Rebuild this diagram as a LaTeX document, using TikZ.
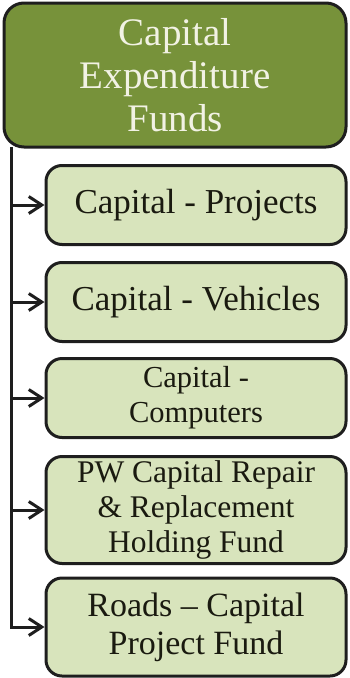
\documentclass[tikz,border=0pt]{standalone}
\usepackage{fontspec}
\setmainfont{Liberation Serif}
\usetikzlibrary{arrows.meta}
\definecolor{topfill}{HTML}{77923A}
\definecolor{childfill}{HTML}{D8E4BC}
\definecolor{edge}{HTML}{1E1E1E}
\definecolor{toptext}{HTML}{F2F2E4}
\definecolor{childtext}{HTML}{1A1A10}
\tikzset{
  topbox/.style={draw=edge, line width=3pt, fill=topfill, rounded corners=20pt,
    text=toptext, align=center, inner sep=0pt, minimum width=342pt, minimum height=144pt},
  childbox/.style={draw=edge, line width=3pt, fill=childfill, rounded corners=16pt,
    text=childtext, align=center, inner sep=0pt, minimum width=300pt},
  link/.style={draw=edge, line width=3pt, -{Straight Barb[length=13pt,width=17pt,line width=3pt]}},
}
\begin{document}
\begin{tikzpicture}[x=1pt,y=-1pt]
\useasboundingbox (0,0) rectangle (350,678);
\node[topbox, font=\fontsize{39}{43}\selectfont] (top) at (175,75) {Capital\\Expenditure\\Funds};
\node[childbox, minimum height=79pt, font=\fontsize{35}{38}\selectfont] (b1) at (196,205) {Capital - Projects};
\node[childbox, minimum height=79pt, font=\fontsize{35}{38}\selectfont] (b2) at (196,302) {Capital - Vehicles};
\node[childbox, minimum height=79pt, font=\fontsize{30.5}{35}\selectfont] (b3) at (196,398) {Capital -\\Computers};
\node[childbox, minimum height=107pt, font=\fontsize{31.5}{35}\selectfont] (b4) at (196,510) {PW Capital Repair\\\& Replacement\\Holding Fund};
\node[childbox, minimum height=98pt, font=\fontsize{34}{38}\selectfont] (b5) at (196,627) {Roads – Capital\\Project Fund};
\coordinate (trunk) at (11,147);
\draw[link] (trunk) |- (b5.west);
\draw[link] (trunk |- b1.west) -- (b1.west);
\draw[link] (trunk |- b2.west) -- (b2.west);
\draw[link] (trunk |- b3.west) -- (b3.west);
\draw[link] (trunk |- b4.west) -- (b4.west);
\end{tikzpicture}
\end{document}
